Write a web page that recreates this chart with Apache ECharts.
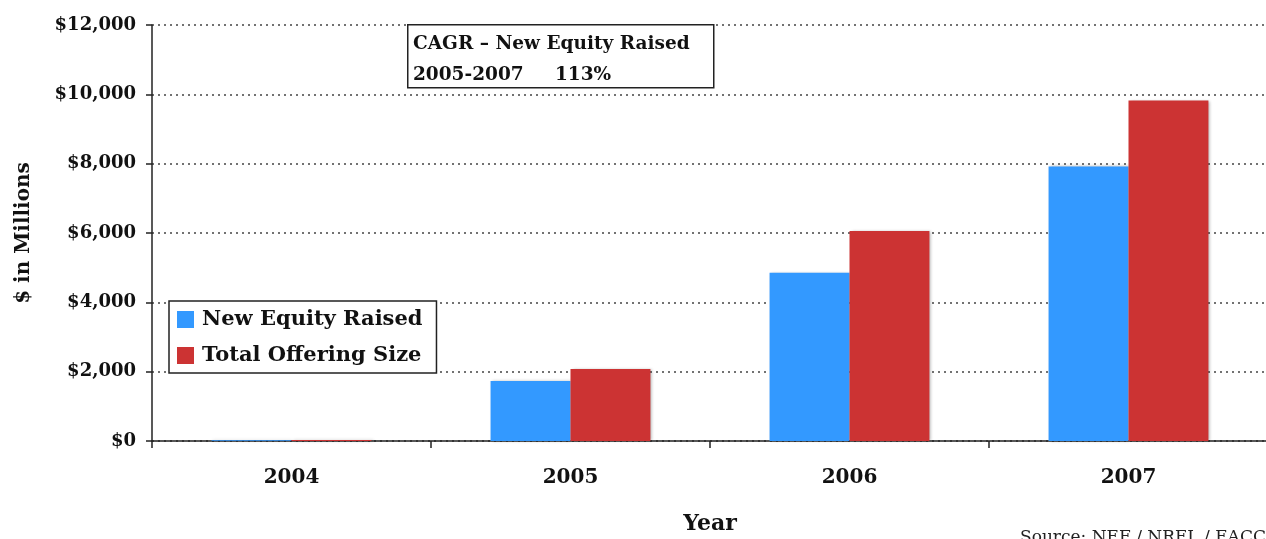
<!DOCTYPE html>
<html>
<head>
<meta charset="utf-8">
<script src="https://cdn.jsdelivr.net/npm/echarts@6/dist/echarts.min.js"></script>
<style>
  html, body { margin: 0; padding: 0; background: #fff; overflow: hidden; }
  #chart { width: 1266px; height: 539px; }
</style>
</head>
<body>
<div id="chart"></div>
<script>
var years = ['2004', '2005', '2006', '2007'];
var newEquity = [25, 1730, 4850, 7920];
var totalOffering = [30, 2080, 6060, 9820];
var seriesNames = ['New Equity Raised', 'Total Offering Size'];
var noteTitle = 'CAGR \u2013 New Equity Raised';
var notePeriod = '2005-2007';
var noteValue = '113%';
var sourceText = 'Source: NEF / NREL / EACC';

var serif = '"DejaVu Serif", "Liberation Serif", serif';

var myChart = echarts.init(document.getElementById('chart'));
myChart.setOption({
    animation: false,
    textStyle: { fontFamily: serif, color: '#111' },
    grid: { left: 152, top: 25, width: 1116, height: 416, outerBoundsMode: 'none', containLabel: false },
    legend: {
        orient: 'vertical',
        left: 169,
        top: 301,
        padding: [8, 14, 7, 8],
        itemGap: 15,
        itemWidth: 17,
        itemHeight: 17,
        backgroundColor: '#fff',
        borderColor: '#222',
        borderWidth: 1.5,
        icon: 'rect',
        textStyle: { fontFamily: serif, fontSize: 21, lineHeight: 21, fontWeight: 'bold', color: '#111', padding: [0, 0, 0, 3] },
        data: seriesNames
    },
    xAxis: {
        type: 'category',
        data: years,
        axisLine: { lineStyle: { color: '#222', width: 1.5 } },
        axisTick: { show: true, length: 7, lineStyle: { color: '#222', width: 1.5 } },
        axisLabel: { fontFamily: serif, fontSize: 20, fontWeight: 'bold', color: '#111', margin: 27 },
        name: 'Year',
        nameLocation: 'middle',
        nameGap: 72,
        nameTextStyle: { fontFamily: serif, fontSize: 22, fontWeight: 'bold', color: '#111' }
    },
    yAxis: {
        type: 'value',
        min: 0,
        max: 12000,
        interval: 2000,
        axisLine: { show: true, lineStyle: { color: '#222', width: 1.5 } },
        axisTick: { show: true, inside: false, length: 6, lineStyle: { color: '#222', width: 1.5 } },
        splitLine: { lineStyle: { color: '#444', type: [2, 4], width: 1.5 } },
        axisLabel: {
            fontFamily: serif, fontSize: 18, fontWeight: 'bold', color: '#111', margin: 16,
            formatter: function (v) { return '$' + v.toLocaleString('en-US'); }
        },
        name: '$ in Millions',
        nameLocation: 'middle',
        nameRotate: 90,
        nameGap: 118,
        nameTextStyle: { fontFamily: serif, fontSize: 20, fontWeight: 'bold', color: '#111' }
    },
    series: [{
        name: seriesNames[0],
        type: 'bar',
        data: newEquity,
        barGap: '0%',
        barCategoryGap: '42.7%',
        itemStyle: { color: '#3399FF', shadowColor: 'rgba(0,0,0,0.25)', shadowBlur: 3, shadowOffsetX: 1 }
    }, {
        name: seriesNames[1],
        type: 'bar',
        data: totalOffering,
        itemStyle: { color: '#CC3333', shadowColor: 'rgba(0,0,0,0.3)', shadowBlur: 3, shadowOffsetX: 2 }
    }],
    graphic: [{
        type: 'rect',
        left: 407,
        top: 24,
        shape: { width: 306, height: 63 },
        style: { fill: '#fff', stroke: '#222', lineWidth: 1.5 },
        z: 10
    }, {
        type: 'text',
        x: 413,
        y: 44,
        style: { text: noteTitle, font: 'bold 18.5px ' + serif, fill: '#111', verticalAlign: 'middle' },
        z: 11
    }, {
        type: 'text',
        x: 413,
        y: 75,
        style: { text: notePeriod, font: 'bold 18.5px ' + serif, fill: '#111', verticalAlign: 'middle' },
        z: 11
    }, {
        type: 'text',
        x: 555,
        y: 75,
        style: { text: noteValue, font: 'bold 18.5px ' + serif, fill: '#111', verticalAlign: 'middle' },
        z: 11
    }, {
        type: 'text',
        left: 1020,
        top: 529,
        style: { text: sourceText, font: '17px ' + serif, fill: '#222' },
        z: 11
    }]
});
</script>
</body>
</html>
